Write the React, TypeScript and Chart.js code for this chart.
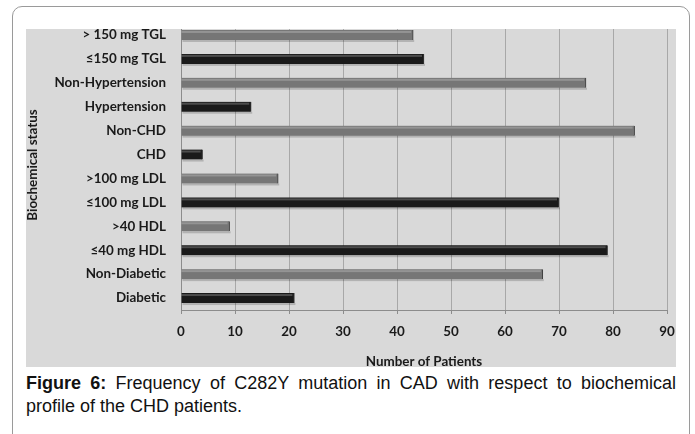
import React, { useEffect, useRef } from "react";
import { Chart, registerables } from "chart.js";

Chart.register(...registerables);

const categories = [
  "> 150 mg TGL",
  "≤150 mg TGL",
  "Non-Hypertension",
  "Hypertension",
  "Non-CHD",
  "CHD",
  ">100 mg LDL",
  "≤100 mg LDL",
  ">40 HDL",
  "≤40 mg HDL",
  "Non-Diabetic",
  "Diabetic",
];
const patients = [43, 45, 75, 13, 84, 4, 18, 70, 9, 79, 67, 21];
const barColors = [
  "#767676", "#1a1a1a", "#767676", "#1a1a1a", "#767676", "#1a1a1a",
  "#767676", "#1a1a1a", "#767676", "#1a1a1a", "#767676", "#1a1a1a",
];
const xMin = 0;
const xMax = 90;
const xStep = 10;
const xTitle = "Number of Patients";
const yTitle = "Biochemical status";

const bgPlugin = {
  id: "bgPlugin",
  beforeDraw(chart: any) {
    const { ctx, width, height } = chart;
    ctx.save();
    ctx.fillStyle = "#d9d9d9";
    ctx.fillRect(0, 6, width, height - 6);
    ctx.restore();
  },
  afterDatasetsDraw(chart: any) {
    const { ctx } = chart;
    const meta = chart.getDatasetMeta(0);
    ctx.save();
    meta.data.forEach((el: any) => {
      const h = el.height;
      const x0 = Math.min(el.base, el.x);
      const x1 = Math.max(el.base, el.x);
      const top = el.y - h / 2;
      ctx.fillStyle = "rgba(255,255,255,0.22)";
      ctx.fillRect(x0, top + 1, x1 - x0 - 2, 2);
      ctx.fillStyle = "rgba(0,0,0,0.18)";
      ctx.fillRect(x0 + 1, top + h, x1 - x0, 2);
    });
    ctx.restore();
  },
  afterDraw(chart: any) {
    const { ctx, width } = chart;
    ctx.save();
    ctx.fillStyle = "#ffffff";
    ctx.fillRect(0, 0, width, 6);
    ctx.restore();
  },
};

export default function App() {
  const ref = useRef<HTMLCanvasElement>(null);
  useEffect(() => {
    if (!ref.current) return;
    const font = "Lato, 'Open Sans', sans-serif";
    const chart = new Chart(ref.current, {
      type: "bar",
      data: {
        labels: categories,
        datasets: [
          {
            data: patients,
            backgroundColor: barColors,
            borderColor: "#3a3a3a",
            borderWidth: { top: 0, bottom: 0, left: 0, right: 1 } as any,
            barThickness: 10,
          },
        ],
      },
      options: {
        indexAxis: "y",
        animation: false,
        responsive: false,
        maintainAspectRatio: false,
        layout: { padding: { left: 0, right: 9, top: 0, bottom: 0 } },
        plugins: {
          legend: { display: false },
          tooltip: { enabled: false },
        },
        scales: {
          x: {
            min: xMin,
            max: xMax,
            ticks: {
              stepSize: xStep,
              color: "#1a1a1a",
              font: { family: font, size: 13.4, weight: "bold" },
              padding: 10,
            },
            grid: {
              color: "#a8a8a8",
              lineWidth: 1,
              tickLength: 4,
              tickColor: "#8c8c8c",
            },
            border: { color: "#8c8c8c" },
            title: {
              display: true,
              text: xTitle,
              color: "#1a1a1a",
              font: { family: font, size: 13.4, weight: "bold" },
              padding: { top: 0, bottom: -3 },
            },
            afterFit(scale: any) {
              scale.height = 57;
              scale.paddingLeft = 0;
              scale.paddingRight = 0;
            },
          },
          y: {
            ticks: {
              color: "#1a1a1a",
              font: { family: font, size: 13.4, weight: "bold" },
              padding: 15,
            },
            grid: { display: false, tickLength: 0 },
            border: { color: "#8c8c8c" },
            afterFit(scale: any) {
              scale.width = 155;
              scale.paddingTop = 0;
              scale.paddingBottom = 0;
            },
          },
        },
      },
      plugins: [bgPlugin],
    });
    return () => chart.destroy();
  }, []);

  return (
    <div
      style={{
        position: "fixed",
        left: 0,
        top: 0,
        width: 695,
        height: 434,
        background: "#fff",
        overflow: "hidden",
      }}
    >
      <div
        style={{
          position: "absolute",
          left: 12,
          top: 6,
          width: 676,
          height: 460,
          border: "1px solid #9a9a9a",
          borderRadius: 10,
        }}
      />
      <canvas
        ref={ref}
        width={650}
        height={344}
        style={{ position: "absolute", left: 26, top: 23, width: 650, height: 344 }}
      />
      <div
        style={{
          position: "absolute",
          left: 32,
          top: 165,
          width: 0,
          height: 0,
          transform: "rotate(-90deg)",
        }}
      >
        <div
          style={{
            position: "absolute",
            left: -100,
            top: -9,
            width: 200,
            textAlign: "center",
            font: "bold 13.4px Lato, 'Open Sans', sans-serif",
            lineHeight: "18px",
            color: "#1a1a1a",
            whiteSpace: "nowrap",
          }}
        >
          {yTitle}
        </div>
      </div>
      <div
        style={{
          position: "absolute",
          left: 26,
          top: 372,
          width: 650,
          textAlign: "justify",
          font: "18px 'Liberation Sans', Arial, sans-serif",
          lineHeight: "23px",
          color: "#111",
        }}
      >
        <b>Figure 6:</b> Frequency of C282Y mutation in CAD with respect to biochemical profile of the CHD patients.
      </div>
    </div>
  );
}
